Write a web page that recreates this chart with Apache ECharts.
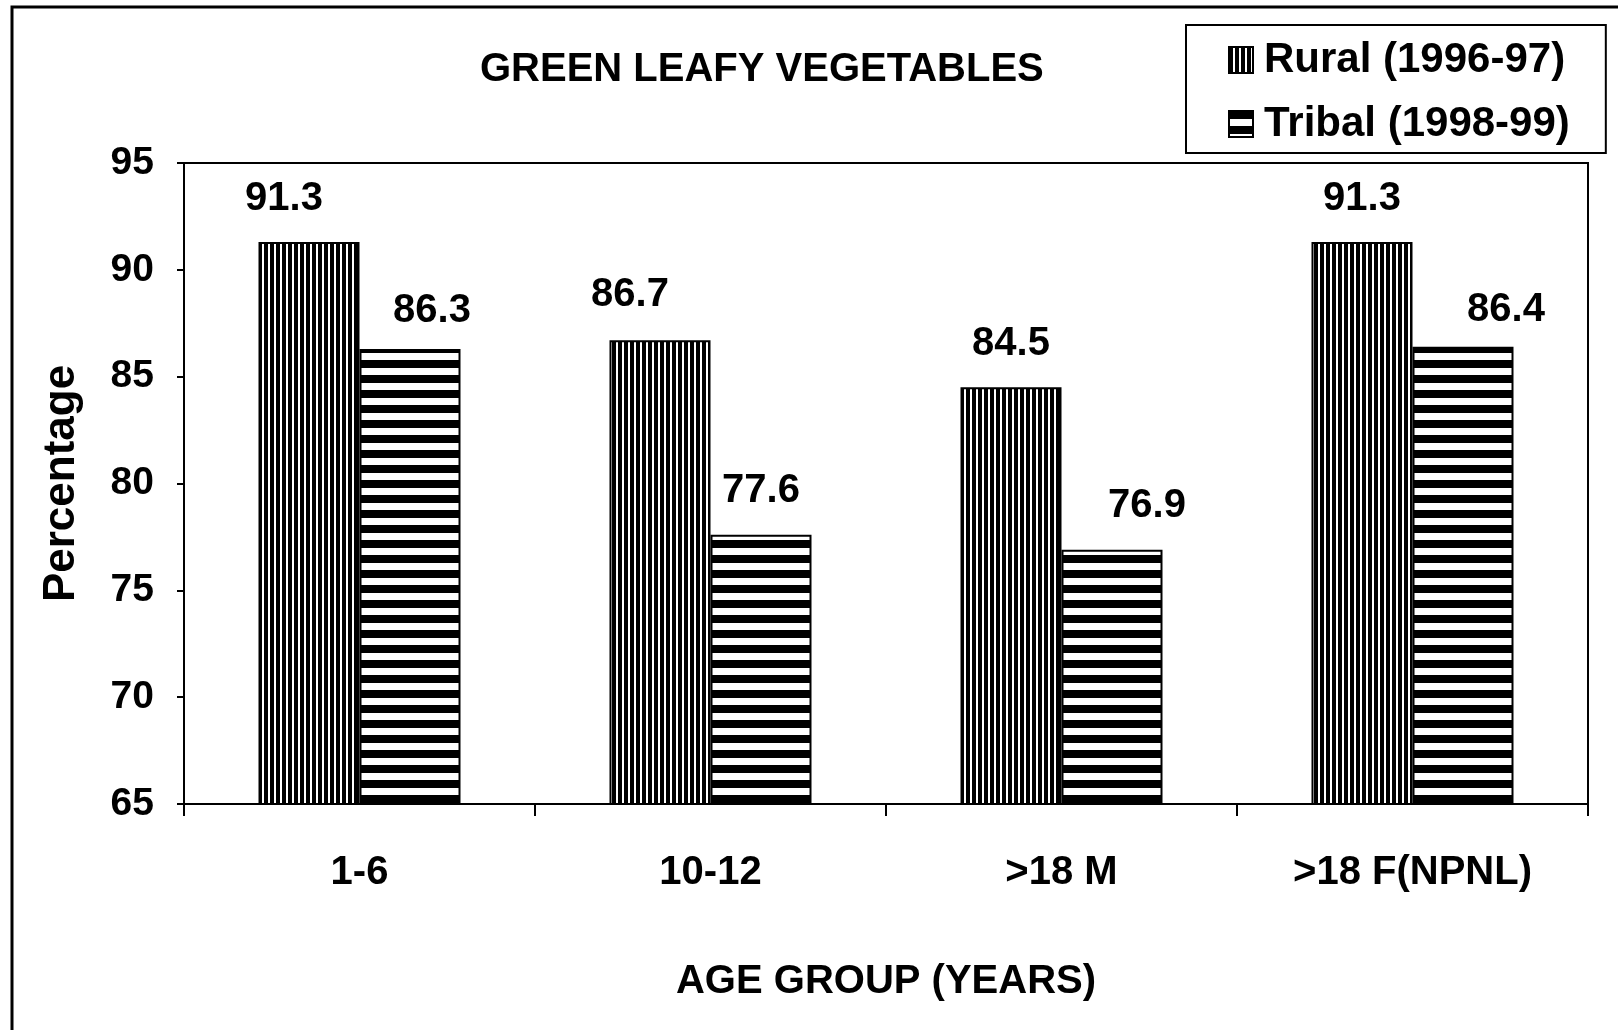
<!DOCTYPE html>
<html>
<head>
<meta charset="utf-8">
<title>Green leafy vegetables</title>
<script src="https://cdn.jsdelivr.net/npm/echarts@6/dist/echarts.min.js"></script>
<style>
    html, body {margin: 0; padding: 0; background: #fff;}
    #main {width: 1618px; height: 1030px;}
</style>
</head>
<body>
<div id="main"></div>
<script>
// data
const ageGroups = ['1-6', '10-12', '>18 M', '>18 F(NPNL)'];
const rural = [91.3, 86.7, 84.5, 91.3];
const tribal = [86.3, 77.6, 76.9, 86.4];
const seriesNames = ['Rural (1996-97)', 'Tribal (1998-99)'];
const yTicks = [65, 70, 75, 80, 85, 90, 95];

// the value labels in the original are not placed evenly, nudge them [dx, dy]
const ruralLabelNudge = [[-25, 3], [-30, 1], [0, 3], [0, 3]];
const tribalLabelNudge = [[22, 8], [0, 2], [35, 2], [43, 9]];

const font = '"Liberation Sans", Arial, sans-serif';

// stripe fills, like the old excel hatch
function stripes(vertical) {
    const c = document.createElement('canvas');
    const ctx = c.getContext('2d');
    if (vertical) {
        c.width = 6; c.height = 6;
        ctx.fillStyle = '#fff';
        ctx.fillRect(0, 0, 6, 6);
        ctx.fillStyle = '#000';
        ctx.fillRect(0, 0, 4, 6);
    } else {
        c.width = 15; c.height = 15;
        ctx.fillStyle = '#fff';
        ctx.fillRect(0, 0, 15, 15);
        ctx.fillStyle = '#000';
        ctx.fillRect(0, 0, 15, 8);
    }
    return c;
}

const chart = echarts.init(document.getElementById('main'));

const labelStyle = {
    show: true,
    position: 'top',
    distance: 26,
    color: '#000',
    fontFamily: font,
    fontWeight: 'bold',
    fontSize: 40
};

// values -> bar data items, each with its own label offset
const withLabels = (values, nudge) => values.map((v, i) => ({
    value: v,
    label: {offset: nudge[i]}
}));

const option = {
    animation: false,
    backgroundColor: '#fff',
    title: {
        text: 'GREEN LEAFY VEGETABLES',
        left: 475,
        top: 45,
        textStyle: {color: '#000', fontFamily: font, fontWeight: 'bold', fontSize: 40}
    },
    legend: {
        orient: 'vertical',
        left: 1186,
        top: 25,
        padding: [14, 36, 8, 42],
        itemGap: 22,
        itemWidth: 24,
        itemHeight: 26,
        borderColor: '#000',
        borderWidth: 2,
        icon: 'rect',
        textStyle: {color: '#000', fontFamily: font, fontWeight: 'bold', fontSize: 42, padding: [0, 0, 0, 6]},
        data: seriesNames
    },
    grid: {
        left: 184,
        right: 30,
        top: 163,
        bottom: 226,
        show: true,
        borderColor: '#000',
        borderWidth: 2
    },
    xAxis: {
        type: 'category',
        data: ageGroups,
        name: 'AGE GROUP (YEARS)',
        nameLocation: 'middle',
        nameGap: 158,
        nameTextStyle: {color: '#000', fontFamily: font, fontWeight: 'bold', fontSize: 40},
        axisLine: {lineStyle: {color: '#000', width: 2}},
        axisTick: {show: true, length: 12, lineStyle: {color: '#000', width: 2}},
        axisLabel: {color: '#000', fontFamily: font, fontWeight: 'bold', fontSize: 40, margin: 49}
    },
    yAxis: {
        type: 'value',
        min: yTicks[0],
        max: yTicks[yTicks.length - 1],
        interval: yTicks[1] - yTicks[0],
        name: 'Percentage',
        nameLocation: 'middle',
        nameGap: 100,
        nameTextStyle: {color: '#000', fontFamily: font, fontWeight: 'bold', fontSize: 44},
        axisLine: {show: true, lineStyle: {color: '#000', width: 2}},
        axisTick: {show: true, length: 7, lineStyle: {color: '#000', width: 2}},
        axisLabel: {color: '#000', fontFamily: font, fontWeight: 'bold', fontSize: 39, margin: 30},
        splitLine: {show: false}
    },
    series: [
        {
            name: seriesNames[0],
            type: 'bar',
            data: withLabels(rural, ruralLabelNudge),
            barWidth: 101,
            barGap: '0%',
            itemStyle: {color: {image: stripes(true), repeat: 'repeat'}, borderColor: '#000', borderWidth: 2},
            label: labelStyle
        },
        {
            name: seriesNames[1],
            type: 'bar',
            data: withLabels(tribal, tribalLabelNudge),
            barWidth: 101,
            itemStyle: {color: {image: stripes(false), repeat: 'repeat'}, borderColor: '#000', borderWidth: 2},
            label: labelStyle
        }
    ],
    graphic: [
        {
            // outer frame of the figure
            type: 'rect',
            shape: {x: 12, y: 7, width: 1700, height: 1100},
            style: {fill: 'none', stroke: '#000', lineWidth: 3},
            silent: true
        }
    ]
};

chart.setOption(option);
</script>
</body>
</html>
